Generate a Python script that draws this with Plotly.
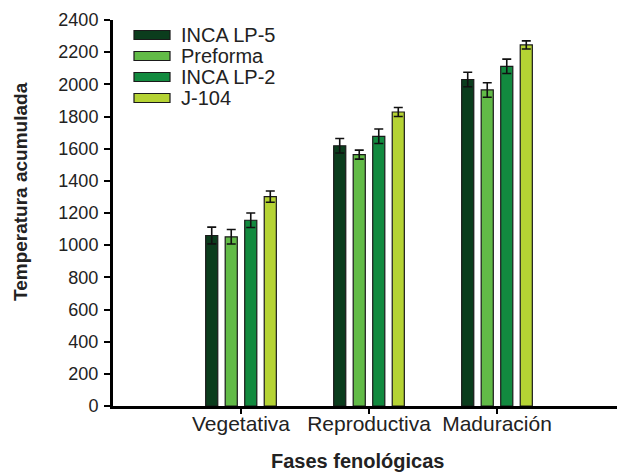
import plotly.graph_objects as go

phases = ["Vegetativa", "Reproductiva", "Maduración"]
series_names = ["INCA LP-5", "Preforma", "INCA LP-2", "J-104"]
inca_lp5 = [1060, 1618, 2030]
preforma = [1052, 1563, 1965]
inca_lp2 = [1155, 1677, 2112]
j104 = [1302, 1828, 2245]
err_lp5 = [52, 45, 45]
err_preforma = [45, 28, 45]
err_lp2 = [45, 45, 45]
err_j104 = [35, 28, 25]
colors = ["#0b3d1d", "#62bb47", "#128a3f", "#b5d334"]

values = [inca_lp5, preforma, inca_lp2, j104]
errors = [err_lp5, err_preforma, err_lp2, err_j104]

# Figure sized so the plot sits where the reference puts it (page has 8px body margin)
W, H = 617, 464
ML, MR, MT, MB = 105, 0, 12, 66
PW, PH = W - ML - MR, H - MT - MB

def px(x):  # figure-pixel x -> paper
    return (x - ML) / PW

def py(y):  # figure-pixel y (from top) -> paper
    return (H - MB - y) / PH

fig = go.Figure()
for name, vals, errs, col in zip(series_names, values, errors, colors):
    fig.add_trace(go.Bar(
        x=list(range(len(phases))), y=vals, name=name,
        marker=dict(color=col, line=dict(color="#1a1a1a", width=1.2)),
        error_y=dict(type="data", array=errs, visible=True,
                     color="#111111", thickness=1.6, width=4.5),
        showlegend=False,
    ))

# Legend drawn as wide swatches with labels (legend only, not data marks)
shapes = []
annotations = []
for i, (name, col) in enumerate(zip(series_names, colors)):
    cy = 27 + 21 * i
    shapes.append(dict(type="rect", xref="paper", yref="paper",
                       x0=px(126), x1=px(162), y0=py(cy + 4.5), y1=py(cy - 4.5),
                       fillcolor=col, line=dict(color="#1a1a1a", width=1.2)))
    annotations.append(dict(text=name, xref="paper", yref="paper",
                            x=px(171), y=py(cy), xanchor="left", yanchor="middle",
                            showarrow=False, font=dict(size=20, color="#222222")))

annotations.append(dict(text="<b>Fases fenológicas</b>", xref="paper", yref="paper",
                        x=px(349), y=py(453), xanchor="center", yanchor="middle",
                        showarrow=False, font=dict(size=20, color="#222222")))
annotations.append(dict(text="<b>Temperatura acumulada</b>", xref="paper", yref="paper",
                        x=px(12), y=py(184), xanchor="center", yanchor="middle",
                        textangle=-90, showarrow=False,
                        font=dict(size=19, color="#222222")))

fig.update_layout(
    width=W, height=H,
    margin=dict(l=ML, r=MR, t=MT, b=MB, autoexpand=False),
    paper_bgcolor="white", plot_bgcolor="white",
    barmode="group", bargap=0.39, bargroupgap=0.38,
    font=dict(family="Liberation Sans, Arial, sans-serif", size=17, color="#222222"),
    showlegend=False,
    shapes=shapes, annotations=annotations,
    xaxis=dict(
        range=[-1, 3], tickvals=list(range(len(phases))), ticktext=phases,
        showline=True, linecolor="black", linewidth=3,
        ticks="outside", ticklen=5, tickwidth=2, tickcolor="black",
        showgrid=False, zeroline=False, automargin=False,
        tickfont=dict(size=21), ticklabelstandoff=-8,
    ),
    yaxis=dict(
        range=[0, 2400], tickvals=list(range(0, 2401, 200)),
        showline=True, linecolor="black", linewidth=3,
        ticks="outside", ticklen=6, tickwidth=2, tickcolor="black",
        showgrid=False, zeroline=False, automargin=False,
        tickfont=dict(size=18), ticklabelstandoff=2,
    ),
)

fig.write_html("out.html")
